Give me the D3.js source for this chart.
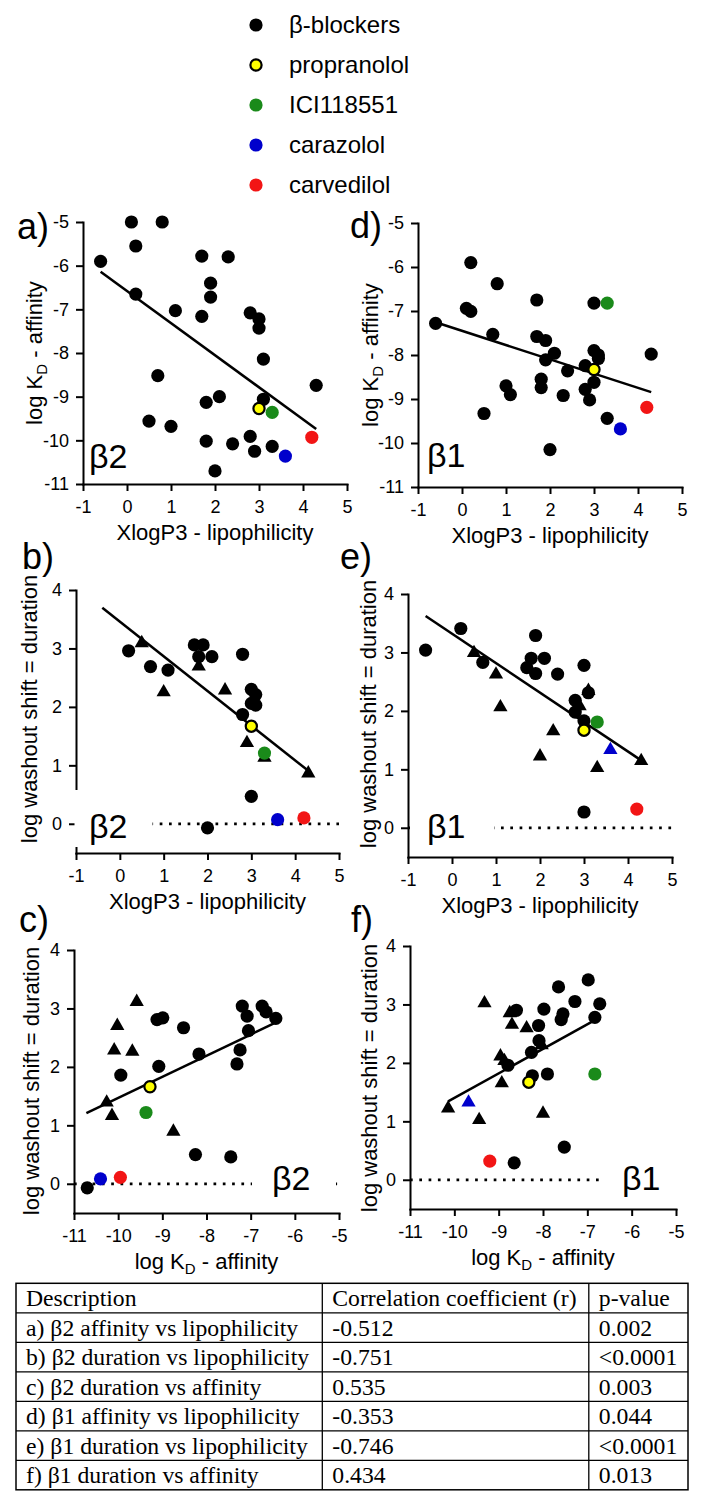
<!DOCTYPE html>
<html><head><meta charset="utf-8">
<script src="https://cdn.jsdelivr.net/npm/d3@7"></script>
<style>body{margin:0;background:#fff} svg{display:block}</style>
</head><body>
<svg id="chart" width="709" height="1501"></svg>
<script>
// ---------------- DATA ----------------
const legendLabels = ["β-blockers", "propranolol", "ICI118551", "carazolol", "carvedilol"];
const legendKinds = ["b", "p", "i", "c", "v"];

const xTicksLipo = [-1, 0, 1, 2, 3, 4, 5];
const xTicksAffinity = [-11, -10, -9, -8, -7, -6, -5];
const yTicksAffinity = [-11, -10, -9, -8, -7, -6, -5];
const yTicksDuration = [0, 1, 2, 3, 4];

// [x, y, kind]  b=black circle, t=black triangle, p=propranolol, i=ICI118551, c=carazolol, ct=carazolol triangle, v=carvedilol
const pointsA = [
  [-0.6,-5.9,'b'],[0.1,-5.0,'b'],[0.8,-5.0,'b'],[0.2,-5.55,'b'],[0.2,-6.65,'b'],
  [1.7,-5.78,'b'],[2.3,-5.8,'b'],[1.9,-6.4,'b'],[1.9,-6.72,'b'],[1.1,-7.03,'b'],
  [1.7,-7.16,'b'],[2.8,-7.08,'b'],[3.0,-7.22,'b'],[3.0,-7.43,'b'],[3.1,-8.14,'b'],
  [0.7,-8.52,'b'],[4.3,-8.74,'b'],[2.1,-9.0,'b'],[1.8,-9.13,'b'],[3.1,-9.06,'b'],
  [0.5,-9.56,'b'],[1.0,-9.68,'b'],[2.8,-9.91,'b'],[1.8,-10.02,'b'],[2.4,-10.08,'b'],
  [3.3,-10.14,'b'],[2.9,-10.25,'b'],[2.0,-10.70,'b'],
  [3.0,-9.27,'p'],[3.3,-9.36,'i'],[3.6,-10.36,'c'],[4.2,-9.93,'v']
];
const pointsD = [
  [0.2,-5.9,'b'],[0.8,-6.38,'b'],[1.7,-6.75,'b'],[3.0,-6.82,'b'],[0.1,-6.94,'b'],
  [0.2,-7.01,'b'],[-0.6,-7.28,'b'],[0.7,-7.53,'b'],[1.7,-7.58,'b'],[1.9,-7.67,'b'],
  [2.1,-7.96,'b'],[1.9,-8.11,'b'],[4.3,-7.98,'b'],[3.0,-7.9,'b'],[3.1,-8.0,'b'],
  [3.1,-8.08,'b'],[2.8,-8.24,'b'],[2.4,-8.36,'b'],[1.8,-8.55,'b'],[1.8,-8.74,'b'],
  [3.0,-8.62,'b'],[2.8,-8.78,'b'],[1.0,-8.7,'b'],[1.1,-8.9,'b'],[2.3,-8.92,'b'],
  [2.9,-9.02,'b'],[0.5,-9.33,'b'],[3.3,-9.44,'b'],[2.0,-10.15,'b'],
  [3.0,-8.33,'p'],[3.3,-6.82,'i'],[3.6,-9.68,'c'],[4.2,-9.19,'v']
];
const pointsB = [
  [0.2,2.96,'b'],[0.5,3.11,'t'],[0.7,2.69,'b'],[1.1,2.63,'b'],[1.0,2.27,'t'],
  [1.7,3.06,'b'],[1.9,3.06,'b'],[1.8,2.86,'b'],[2.1,2.86,'b'],[1.8,2.71,'t'],
  [2.8,2.9,'b'],[2.4,2.30,'t'],[3.0,2.30,'b'],[3.1,2.21,'b'],[3.0,2.06,'b'],
  [3.1,2.03,'b'],[2.8,1.87,'b'],[2.9,1.40,'t'],[3.3,1.15,'t'],[4.3,0.88,'t'],
  [3.0,0.47,'b'],[2.0,-0.07,'b'],
  [3.0,1.67,'p'],[3.3,1.21,'i'],[3.6,0.07,'c'],[4.2,0.10,'v']
];
const pointsE = [
  [-0.6,3.04,'b'],[0.2,3.41,'b'],[0.5,3.01,'t'],[0.7,2.83,'b'],[1.0,2.64,'t'],
  [1.1,2.08,'t'],[1.9,3.29,'b'],[1.8,2.9,'b'],[2.1,2.9,'b'],[1.7,2.74,'b'],
  [1.9,2.64,'b'],[2.4,2.63,'b'],[3.0,2.78,'b'],[3.1,2.36,'t'],[3.1,2.31,'b'],
  [2.9,2.1,'t'],[2.8,2.18,'b'],[2.8,1.98,'b'],[3.0,1.83,'b'],[2.3,1.67,'t'],
  [2.0,1.24,'t'],[3.3,1.04,'t'],[4.3,1.16,'t'],[3.0,0.27,'b'],
  [3.0,1.67,'p'],[3.3,1.81,'i'],[3.6,1.35,'ct'],[4.2,0.32,'v']
];
const pointsC = [
  [-10.7,-0.07,'b'],[-10.26,1.41,'t'],[-10.14,1.18,'t'],[-9.94,1.86,'b'],[-10.02,2.72,'t'],
  [-10.09,2.30,'t'],[-9.68,2.28,'t'],[-9.58,3.13,'t'],[-9.12,2.81,'b'],[-8.99,2.84,'b'],
  [-9.08,2.01,'b'],[-8.75,0.91,'t'],[-8.52,2.67,'b'],[-8.17,2.22,'b'],[-8.25,0.5,'b'],
  [-7.45,0.46,'b'],[-7.31,2.05,'b'],[-7.24,2.29,'b'],[-7.19,3.04,'b'],[-7.08,2.87,'b'],
  [-7.05,2.62,'b'],[-6.74,3.04,'b'],[-6.65,2.94,'b'],[-6.43,2.83,'b'],
  [-9.28,1.66,'p'],[-9.37,1.22,'i'],[-10.4,0.085,'c'],[-9.95,0.11,'v']
];
const pointsF = [
  [-10.14,1.24,'t'],[-9.44,1.04,'t'],[-9.32,3.04,'t'],[-8.93,1.67,'t'],[-8.96,2.13,'t'],
  [-8.87,2.05,'t'],[-8.75,2.87,'t'],[-8.6,2.9,'b'],[-8.7,2.67,'t'],[-8.79,1.96,'b'],
  [-8.65,0.29,'b'],[-8.24,1.78,'b'],[-8.26,2.18,'b'],[-8.37,2.61,'t'],[-8.1,2.64,'b'],
  [-8.03,2.32,'t'],[-8.09,2.38,'b'],[-7.98,2.92,'b'],[-7.9,1.81,'b'],[-8.0,1.15,'t'],
  [-7.65,3.30,'b'],[-7.55,2.84,'b'],[-7.59,2.74,'b'],[-7.52,0.56,'b'],[-7.28,3.05,'b'],
  [-6.98,3.42,'b'],[-6.72,3.01,'b'],[-6.83,2.78,'b'],
  [-8.32,1.67,'p'],[-6.83,1.81,'i'],[-9.68,1.34,'ct'],[-9.2,0.32,'v']
];

// regression fits: [slope, intercept, xStart, xEnd]
const fitA = [-0.735, -6.58, -0.6, 4.3];
const fitD = [-0.324, -7.45, -0.6, 4.3];
const fitB = [-0.594, 3.46, -0.4, 4.3];
const fitE = [-0.504, 3.32, -0.6, 4.3];
const fitC = [0.361, 5.08, -10.72, -6.45];
const fitF = [0.42, 5.60, -10.14, -6.83];

const tableHeader = ["Description", "Correlation coefficient (r)", "p-value"];
const tableDescriptions = [
  "a) β2 affinity vs lipophilicity",
  "b) β2 duration vs lipophilicity",
  "c) β2 duration vs affinity",
  "d) β1 affinity vs lipophilicity",
  "e) β1 duration vs lipophilicity",
  "f) β1 duration vs affinity"
];
const tableR = ["-0.512", "-0.751", "0.535", "-0.353", "-0.746", "0.434"];
const tableP = ["0.002", "<0.0001", "0.003", "0.044", "<0.0001", "0.013"];

// ---------------- STYLE / LAYOUT ----------------
const FONT = "'Liberation Sans', Arial, Helvetica, sans-serif";
const SERIF = "'Liberation Serif', 'Times New Roman', serif";
const COL = { b: "#000", t: "#000", p: "#ffff00", i: "#1a8a1a", c: "#0000cc", ct: "#0000cc", v: "#f21515" };

const panels = [
  { pts: pointsA, fit: fitA, xDom: [-1, 5], yDom: [-11, -5], xTicks: xTicksLipo, yTicks: yTicksAffinity,
    L: 83, R: 347, T: 222, B: 484, xTitle: "lipo", yTitle: "aff", ytX: 42, ytY: 353,
    label: "a)", labX: 17, labY: 239, beta: "β2", betaX: 89, betaY: 468, dotted: false },
  { pts: pointsD, fit: fitD, xDom: [-1, 5], yDom: [-11, -5], xTicks: xTicksLipo, yTicks: yTicksAffinity,
    L: 418, R: 682, T: 223, B: 487, xTitle: "lipo", yTitle: "aff", ytX: 378, ytY: 355,
    label: "d)", labX: 350, labY: 238, beta: "β1", betaX: 427, betaY: 467, dotted: false },
  { pts: pointsB, fit: fitB, xDom: [-1, 5], yDom: [-0.5, 4], xTicks: xTicksLipo, yTicks: yTicksDuration,
    L: 76, R: 339, T: 590, B: 853, xTitle: "lipo", yTitle: "dur", ytX: 37, ytY: 709,
    label: "b)", labX: 22, labY: 569, beta: "β2", betaX: 89, betaY: 838, dotted: true, box: [74.5, 790, 78, 57] },
  { pts: pointsE, fit: fitE, xDom: [-1, 5], yDom: [-0.5, 4], xTicks: xTicksLipo, yTicks: yTicksDuration,
    L: 408, R: 672, T: 594, B: 857, xTitle: "lipo", yTitle: "dur", ytX: 376, ytY: 714,
    label: "e)", labX: 340, labY: 569, beta: "β1", betaX: 427, betaY: 838, dotted: true, box: [410, 800, 84, 48] },
  { pts: pointsC, fit: fitC, xDom: [-11, -5], yDom: [-0.5, 4], xTicks: xTicksAffinity, yTicks: yTicksDuration,
    L: 74, R: 339, T: 950, B: 1213, xTitle: "aff", yTitle: "dur", ytX: 39, ytY: 1081,
    label: "c)", labX: 19, labY: 932, beta: "β2", betaX: 272, betaY: 1190, dotted: true, box: [252, 1160, 84, 45] },
  { pts: pointsF, fit: fitF, xDom: [-11, -5], yDom: [-0.5, 4], xTicks: xTicksAffinity, yTicks: yTicksDuration,
    L: 410, R: 676, T: 946, B: 1209, xTitle: "aff", yTitle: "dur", ytX: 377, ytY: 1078,
    label: "f)", labX: 351, labY: 932, beta: "β1", betaX: 622, betaY: 1190, dotted: true, box: [603, 1160, 78, 45] }
];

const svg = d3.select("#chart");
svg.append("rect").attr("width", 709).attr("height", 1501).attr("fill", "#fff");

function drawMarker(g, kind, cx, cy) {
  if (kind === "t" || kind === "ct") {
    g.append("path").attr("d", d3.symbol(d3.symbolTriangle, 88)())
      .attr("transform", `translate(${cx},${cy + 1})`).attr("fill", COL[kind]);
  } else if (kind === "p") {
    g.append("circle").attr("cx", cx).attr("cy", cy).attr("r", 5.6)
      .attr("fill", COL.p).attr("stroke", "#000").attr("stroke-width", 2.2);
  } else {
    g.append("circle").attr("cx", cx).attr("cy", cy).attr("r", 6.6).attr("fill", COL[kind]);
  }
}

function addTitleText(sel, which) {
  if (which === "lipo") {
    sel.text("XlogP3 - lipophilicity");
  } else if (which === "aff") {
    sel.append("tspan").text("log K");
    sel.append("tspan").attr("dy", 5).attr("font-size", 15).text("D");
    sel.append("tspan").attr("dy", -5).text(" - affinity");
  } else {
    sel.text("log washout shift = duration");
  }
}

// Legend
const leg = svg.append("g");
legendLabels.forEach((lab, i) => {
  const cy = 25 + i * 40;
  drawMarker(leg, legendKinds[i], 256, cy);
  leg.append("text").attr("x", 289).attr("y", cy + 8).attr("font-family", FONT)
    .attr("font-size", 24).attr("fill", "#000").text(lab);
});

panels.forEach(p => {
  const x = d3.scaleLinear().domain(p.xDom).range([p.L, p.R]);
  const y = d3.scaleLinear().domain(p.yDom).range([p.B, p.T]);
  const g = svg.append("g");

  // dotted zero line
  if (p.dotted) {
    g.append("line").attr("x1", x(p.xDom[0])).attr("x2", x(p.xDom[1]))
      .attr("y1", y(0)).attr("y2", y(0))
      .attr("stroke", "#000").attr("stroke-width", 2.7).attr("stroke-dasharray", "2.7 6.6");
  }

  // axes
  const xa = g.append("g").attr("transform", `translate(0,${p.B})`)
    .call(d3.axisBottom(x).tickValues(p.xTicks).tickSize(7).tickSizeOuter(0).tickPadding(9)
      .tickFormat(d => String(d)));
  const ya = g.append("g").attr("transform", `translate(${p.L},0)`)
    .call(d3.axisLeft(y).tickValues(p.yTicks).tickSize(7).tickSizeOuter(0).tickPadding(7)
      .tickFormat(d => String(d)));
  [xa, ya].forEach(a => {
    a.selectAll("path.domain").attr("stroke", "#000").attr("stroke-width", 2).attr("stroke-linecap", "square");
    a.selectAll(".tick line").attr("stroke", "#000").attr("stroke-width", 2);
    a.selectAll(".tick text").attr("fill", "#000").attr("font-size", 18).attr("font-family", FONT);
  });

  // label background box (covers axis / dotted line like the original)
  if (p.box) {
    g.append("rect").attr("x", p.box[0]).attr("y", p.box[1]).attr("width", p.box[2]).attr("height", p.box[3])
      .attr("fill", "#fff");
  }

  // regression line
  const f = p.fit;
  g.append("line").attr("x1", x(f[2])).attr("y1", y(f[0] * f[2] + f[1]))
    .attr("x2", x(f[3])).attr("y2", y(f[0] * f[3] + f[1]))
    .attr("stroke", "#000").attr("stroke-width", 2.5);

  // points
  p.pts.forEach(d => drawMarker(g, d[2], x(d[0]), y(d[1])));

  // axis titles
  const xt = g.append("text").attr("x", (p.L + p.R) / 2).attr("y", p.B + 56)
    .attr("text-anchor", "middle").attr("font-family", FONT).attr("font-size", 22).attr("fill", "#000");
  addTitleText(xt, p.xTitle);
  const yt = g.append("text").attr("transform", `translate(${p.ytX},${p.ytY}) rotate(-90)`)
    .attr("text-anchor", "middle").attr("font-family", FONT).attr("font-size", 22).attr("fill", "#000");
  addTitleText(yt, p.yTitle);

  // panel letter and receptor label
  g.append("text").attr("x", p.labX).attr("y", p.labY).attr("font-family", FONT)
    .attr("font-size", 36).attr("fill", "#000").text(p.label);
  g.append("text").attr("x", p.betaX).attr("y", p.betaY).attr("font-family", FONT)
    .attr("font-size", 34).attr("fill", "#000").text(p.beta);
});

// Table
const tb = svg.append("g");
const tL = 16, tR = 688, tT = 1283.3, rowH = 29.5;
const colX = [tL, 322.3, 588.8, tR];
const rows = [tableHeader].concat(tableDescriptions.map((d, i) => [d, tableR[i], tableP[i]]));
const tB = tT + rowH * rows.length;
tb.append("rect").attr("x", tL).attr("y", tT).attr("width", tR - tL).attr("height", tB - tT)
  .attr("fill", "none").attr("stroke", "#000").attr("stroke-width", 1.5);
for (let r = 1; r < rows.length; r++) {
  tb.append("line").attr("x1", tL).attr("x2", tR).attr("y1", tT + r * rowH).attr("y2", tT + r * rowH)
    .attr("stroke", "#000").attr("stroke-width", 1.3);
}
[colX[1], colX[2]].forEach(cx => {
  tb.append("line").attr("x1", cx).attr("x2", cx).attr("y1", tT).attr("y2", tB)
    .attr("stroke", "#000").attr("stroke-width", 1.3);
});
rows.forEach((row, r) => {
  row.forEach((cell, c) => {
    tb.append("text").attr("x", colX[c] + 10).attr("y", tT + r * rowH + 23)
      .attr("font-family", SERIF).attr("font-size", 23.7).attr("fill", "#000").text(cell);
  });
});
</script>
</body></html>
